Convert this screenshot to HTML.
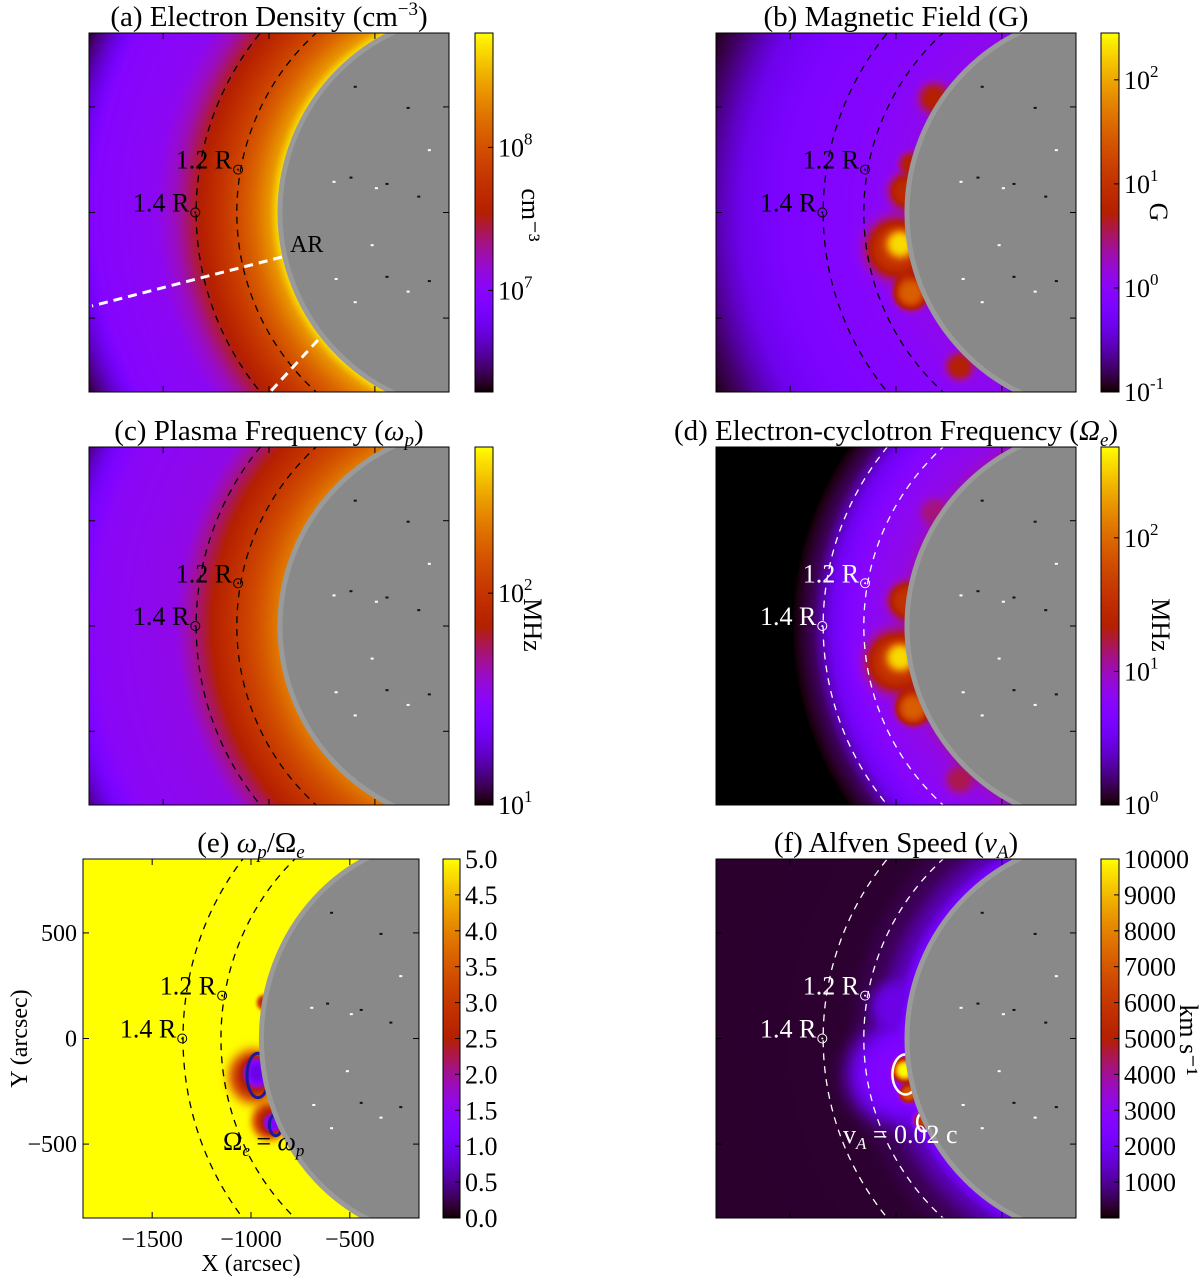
<!DOCTYPE html>
<html><head><meta charset="utf-8">
<style>
html,body{margin:0;padding:0;background:#fff;}
#root{position:relative;width:1200px;height:1277px;overflow:hidden;font-family:"Liberation Serif",serif;}
canvas{position:absolute;}
svg{position:absolute;left:0;top:0;}
text{font-family:"Liberation Serif",serif;}
</style></head>
<body>
<div id="root">
<svg id="ov" width="1200" height="1277"></svg>
</div>
<script>
// ---- data arrays ----
const xTicks = [-1500, -1000, -500];
const yTicks = [500, 0, -500];
const xTickLabels = ["\u22121500", "\u22121000", "\u2212500"];
const yTickLabels = ["500", "0", "\u2212500"];
// radial profiles (colormap fraction vs radius in solar radii)
const profR_a = [1.0, 1.04, 1.12, 1.2, 1.3, 1.4, 1.5, 1.6, 1.9, 2.0, 2.15];
const profV_a = [0.95, 0.84, 0.74, 0.66, 0.57, 0.48, 0.37, 0.3, 0.27, 0.16, 0.0];
const profR_b = [1.0, 1.2, 1.4, 1.6, 1.8, 2.0, 2.15];
const profV_b = [0.31, 0.28, 0.26, 0.24, 0.19, 0.07, 0.0];
const profR_c = [1.0, 1.1, 1.2, 1.3, 1.4, 1.5, 1.9, 2.0, 2.15];
const profV_c = [0.78, 0.68, 0.6, 0.52, 0.42, 0.32, 0.29, 0.22, 0.05];
const profR_d = [1.0, 1.05, 1.15, 1.25, 1.35, 1.45, 1.55];
const profV_d = [0.36, 0.32, 0.3, 0.27, 0.2, 0.06, 0.0];
const profR_e = [1.0, 3.0];
const profV_e = [1.0, 1.0];
const profR_f = [1.0, 1.05, 1.15, 1.3, 3.0];
const profV_f = [0.22, 0.13, 0.06, 0.03, 0.025];
// blobs: [X arcsec, Y arcsec, radius arcsec, value]
const blobs_b = [[-1000,-170,150,0.6],[-980,-150,70,0.95],[-930,-380,80,0.72],[-950,100,90,0.55],[-930,230,60,0.5],[-820,540,80,0.5],[-700,-730,70,0.5]];
const blobs_d = [[-1000,-170,150,0.6],[-980,-150,70,0.95],[-920,-390,80,0.72],[-950,120,90,0.58],[-820,540,70,0.42],[-700,-730,70,0.45]];
const blobs_e = [[-985,-180,120,0.5],[-965,-160,70,0.18],[-905,-390,85,0.5],[-890,-400,45,0.25],[-935,170,35,0.55]];
const blobs_f = [[-1000,-170,220,0.26],[-960,-150,55,1.0],[-940,-260,45,0.7],[-880,-390,40,0.6],[-1000,150,120,0.18]];
// colorbar ticks
const cbTicks_a = [8, 7], cbRange_a = [6.29, 8.8];
const cbTicks_b = [2, 1, 0, -1], cbRange_b = [-1, 2.45];
const cbTicks_c = [2, 1], cbRange_c = [1, 2.69];
const cbTicks_d = [2, 1, 0], cbRange_d = [0, 2.68];
const cbTicks_e = [0.0,0.5,1.0,1.5,2.0,2.5,3.0,3.5,4.0,4.5,5.0], cbRange_e = [0, 5];
const cbTicks_f = [1000,2000,3000,4000,5000,6000,7000,8000,9000,10000], cbRange_f = [0, 10000];

const NS = "http://www.w3.org/2000/svg";
const ov = document.getElementById('ov');
const root = document.getElementById('root');
function cmap(t){t=Math.max(0,Math.min(1,t));return [255*Math.sqrt(t),255*t*t*t,255*Math.max(0,Math.sin(2*Math.PI*t))];}
function interp(rs,vs,r){if(r<=rs[0])return vs[0];for(let i=1;i<rs.length;i++){if(r<=rs[i]){const f=(r-rs[i-1])/(rs[i]-rs[i-1]);return vs[i-1]+f*(vs[i]-vs[i-1]);}}return vs[vs.length-1];}
function el(tag,attrs,parent){const e=document.createElementNS(NS,tag);for(const k in attrs)e.setAttribute(k,attrs[k]);(parent||ov).appendChild(e);return e;}

const panels = [
 {key:'a',box:[89,33,360,359],cb:[475,33,18,359],pr:profR_a,pv:profV_a,blobs:[],mode:'max',dash:'#000',title:'(a) Electron Density (cm',titleSup:'\u22123',titleEnd:')',cbt:cbTicks_a,cbr:cbRange_a,log:true,unit:'cm\u207B\u00B3',unitX:522,unitY:215},
 {key:'b',box:[716,33,360,359],cb:[1101,33,18,359],pr:profR_b,pv:profV_b,blobs:blobs_b,mode:'max',dash:'#000',title:'(b) Magnetic Field (G)',cbt:cbTicks_b,cbr:cbRange_b,log:true,unit:'G',unitX:1150,unitY:212},
 {key:'c',box:[89,447,360,358],cb:[475,447,18,358],pr:profR_c,pv:profV_c,blobs:[],mode:'max',dash:'#000',title:'(c) Plasma Frequency (',greek:'\u03C9',sub:'p',titleEnd:')',cbt:cbTicks_c,cbr:cbRange_c,log:true,unit:'MHz',unitX:524,unitY:625},
 {key:'d',box:[716,447,360,358],cb:[1101,447,18,358],pr:profR_d,pv:profV_d,blobs:blobs_d,mode:'max',dash:'#fff',title:'(d) Electron-cyclotron Frequency (',greek:'\u03A9',sub:'e',titleEnd:')',cbt:cbTicks_d,cbr:cbRange_d,log:true,unit:'MHz',unitX:1152,unitY:625},
 {key:'e',box:[83,859,336,359],cb:[443,859,17,359],pr:profR_e,pv:profV_e,blobs:blobs_e,mode:'min',dash:'#000',title:'(e) ',greek:'\u03C9',sub:'p',title2:'/\u03A9',sub2:'e',cbt:cbTicks_e,cbr:cbRange_e,log:false,fmt:1},
 {key:'f',box:[716,859,360,359],cb:[1101,859,18,359],pr:profR_f,pv:profV_f,blobs:blobs_f,mode:'max',dash:'#fff',title:'(f) Alfven Speed (',greek:'v',sub:'A',titleEnd:')',cbt:cbTicks_f,cbr:cbRange_f,log:false,fmt:0,unit:'km s\u207B\u00B9',unitX:1180,unitY:1040}
];

panels.forEach(p=>{
 const [bx,by,bw,bh]=p.box;
 const sx=X=>bx+(X+1850)/1700*bw, sy=Y=>by+(850-Y)/1700*bh;
 const cv=document.createElement('canvas');cv.width=bw;cv.height=bh;
 cv.style.left=bx+'px';cv.style.top=by+'px';
 
 
 root.insertBefore(cv,ov);
 const ctx=cv.getContext('2d');const img=ctx.createImageData(bw,bh);
 for(let j=0;j<bh;j++){const Y=850-(j+0.5)/bh*1700;for(let i=0;i<bw;i++){
  const X=-1850+(i+0.5)/bw*1700;const r=Math.sqrt(X*X+Y*Y)/960;
  let v=interp(p.pr,p.pv,r);
  p.blobs.forEach(b=>{const d=Math.hypot(X-b[0],Y-b[1])/b[2];const w=Math.exp(-Math.pow(d,4));
   if(p.mode==='max'){if(b[3]>v)v=v+(b[3]-v)*w;}else{if(b[3]<v)v=v+(b[3]-v)*w;}});
  const c=cmap(v);const k=(j*bw+i)*4;img.data[k]=c[0];img.data[k+1]=c[1];img.data[k+2]=c[2];img.data[k+3]=255;}}
 ctx.putImageData(img,0,0);
 const cp=el('clipPath',{id:'clip'+p.key});el('rect',{x:bx,y:by,width:bw,height:bh},cp);
 const g=el('g',{'clip-path':'url(#clip'+p.key+')'});
 
 const cx=sx(0),cy=sy(0),kx=bw/1700,ky=bh/1700;
 if(p.key==='e'){
  [[-965,-175,55,105],[-875,-410,32,50]].forEach(c=>{const e=el('ellipse',{cx:sx(c[0]),cy:sy(c[1]),rx:c[2]*kx,ry:c[3]*ky,fill:'none',stroke:'#1a1a9a','stroke-width':3},g);
   });
 }
 if(p.key==='f'){
  [[-955,-170,62,95],[-870,-395,30,45]].forEach(c=>{const e=el('ellipse',{cx:sx(c[0]),cy:sy(c[1]),rx:c[2]*kx,ry:c[3]*ky,fill:'none',stroke:'#fff','stroke-width':2.5},g);
   });
 }
 const disk=el('ellipse',{cx:cx,cy:cy,rx:960*kx-2.5,ry:960*ky-2.5,fill:'#898989',stroke:'#9a9a9a','stroke-width':5},g);
 
 const spk=[[-700,150],[-620,170],[-500,120],[-450,140],[-690,-310],[-450,-300],[-350,-370],[-250,-320],[-600,-420],[-300,80],[-520,-150],[-350,500],[-250,300],[-600,600]];
 spk.forEach((s,i)=>{el('rect',{x:sx(s[0]),y:sy(s[1]),width:3,height:2,fill:i%2?'#111':'#fff'},g);});
 [1.2,1.4].forEach(m=>{const e=el('ellipse',{cx:cx,cy:cy,rx:960*m*kx,ry:960*m*ky,fill:'none',stroke:p.dash,'stroke-width':1.3,'stroke-dasharray':'7,6'},g);
  });
 if(p.key==='a'){
  el('line',{x1:282,y1:257,x2:92,y2:306,stroke:'#fff','stroke-width':3,'stroke-dasharray':'9,6'},g);
  el('line',{x1:318,y1:340,x2:270,y2:392,stroke:'#fff','stroke-width':3,'stroke-dasharray':'9,6'},g);
  const t=el('text',{x:290,y:252,'font-size':24,fill:'#000'},g);t.textContent='AR';
 }
 const lc=p.dash;
 [[1.2,-1146,203],[1.4,-1348,0]].forEach(m=>{
  const mx=sx(m[1]),my=sy(m[2]);
  const c=el('circle',{cx:mx,cy:my,r:4.5,fill:'none',stroke:lc,'stroke-width':1});
  el('circle',{cx:mx,cy:my,r:1,fill:lc});
  const t=el('text',{x:mx-6,y:my-1,'font-size':26,fill:lc,'text-anchor':'end'});t.textContent=m[0]+' R';
  
 });
 if(p.key==='e'){const t=el('text',{x:223,y:1150,'font-size':26,fill:'#000'});t.innerHTML='\u03A9<tspan font-size="17" dy="6" font-style="italic">e</tspan><tspan dy="-6"> = </tspan><tspan font-style="italic">\u03C9</tspan><tspan font-size="17" dy="6" font-style="italic">p</tspan>';}
 if(p.key==='f'){const t=el('text',{x:843,y:1143,'font-size':26,fill:'#fff'});t.innerHTML='v<tspan font-size="17" dy="6" font-style="italic">A</tspan><tspan dy="-6"> = 0.02 c</tspan>';}
 const fr=el('rect',{x:bx,y:by,width:bw,height:bh,fill:'none',stroke:'#000','stroke-width':1});
 
 xTicks.forEach(v=>{const x=sx(v);el('line',{x1:x,y1:by+bh,x2:x,y2:by+bh-6,stroke:'#000'});el('line',{x1:x,y1:by,x2:x,y2:by+6,stroke:'#000'});});
 yTicks.forEach(v=>{const y=sy(v);el('line',{x1:bx,y1:y,x2:bx+6,y2:y,stroke:'#000'});el('line',{x1:bx+bw,y1:y,x2:bx+bw-6,y2:y,stroke:'#000'});});
 if(p.key==='e'){
  xTicks.forEach((v,i)=>{const t=el('text',{x:sx(v),y:by+bh+29,'font-size':24,'text-anchor':'middle'});t.textContent=xTickLabels[i];});
  yTicks.forEach((v,i)=>{const t=el('text',{x:bx-6,y:sy(v)+8,'font-size':24,'text-anchor':'end'});t.textContent=yTickLabels[i];});
  const xl=el('text',{x:bx+bw/2,y:1271,'font-size':24,'text-anchor':'middle'});xl.textContent='X (arcsec)';
  const yl=el('text',{x:0,y:0,'font-size':24,'text-anchor':'middle',transform:'translate(27,'+(by+bh/2)+') rotate(-90)'});yl.textContent='Y (arcsec)';
 }
 const tt=el('text',{x:bx+bw/2,y:by-7,'font-size':29,'text-anchor':'middle'});
 let h=p.title;
 if(p.titleSup)h+='<tspan font-size="19" dy="-11">'+p.titleSup+'</tspan><tspan dy="11">'+p.titleEnd+'</tspan>';
 if(p.greek){h+='<tspan font-style="italic">'+p.greek+'</tspan><tspan font-size="19" dy="6" font-style="italic">'+p.sub+'</tspan>';
  if(p.title2)h+='<tspan dy="-6">'+p.title2+'</tspan><tspan font-size="19" dy="6" font-style="italic">'+p.sub2+'</tspan>';
  else h+='<tspan dy="-6">'+p.titleEnd+'</tspan>';}
 tt.innerHTML=h;
 const [cx0,cy0,cw,ch]=p.cb;
 const cc=document.createElement('canvas');cc.width=cw;cc.height=ch;cc.style.left=cx0+'px';cc.style.top=cy0+'px';
 
 
 root.insertBefore(cc,ov);
 const c2=cc.getContext('2d');for(let j=0;j<ch;j++){const c=cmap(1-(j+0.5)/ch);c2.fillStyle='rgb('+c.map(Math.round).join(',')+')';c2.fillRect(0,j,cw,1);}
 el('rect',{x:cx0,y:cy0,width:cw,height:ch,fill:'none',stroke:'#000'});
 const cyv=v=>cy0+ch-(v-p.cbr[0])/(p.cbr[1]-p.cbr[0])*ch;
 p.cbt.forEach(v=>{const y=cyv(v);el('line',{x1:cx0+cw-5,y1:y,x2:cx0+cw,y2:y,stroke:'#000'});
  const t=el('text',{x:cx0+cw+5,y:y+9,'font-size':26});
  if(p.log)t.innerHTML='10<tspan font-size="17" dy="-12">'+(v<0?'-'+(-v):v)+'</tspan>';else t.textContent=p.fmt?v.toFixed(1):String(v);
  });
 if(p.unit){const u=el('text',{x:0,y:0,'font-size':26,'text-anchor':'middle',transform:'translate('+p.unitX+','+p.unitY+') rotate(90)'});u.textContent=p.unit;}
});
</script>
</body></html>
